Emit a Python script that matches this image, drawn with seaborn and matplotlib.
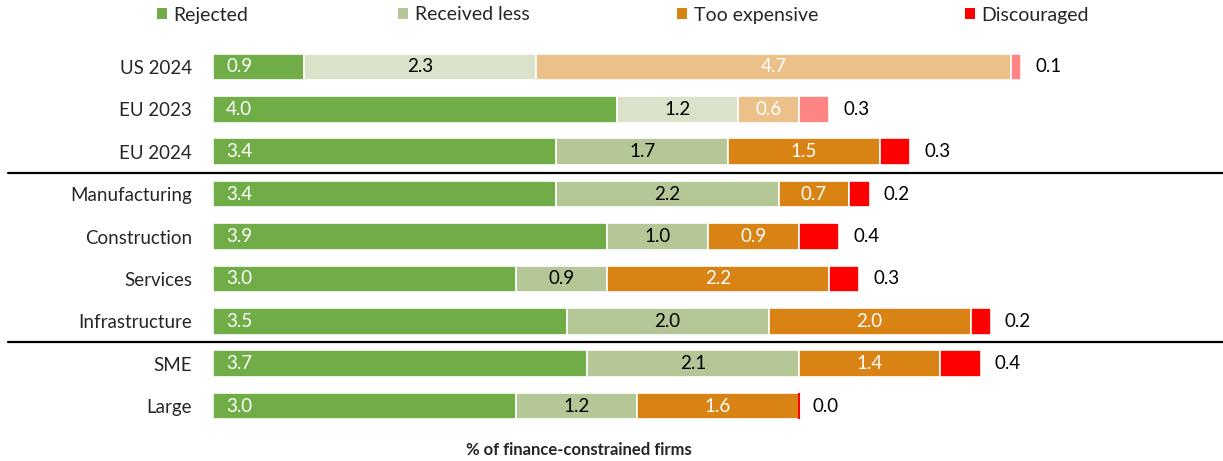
import matplotlib
matplotlib.use("Agg")
import matplotlib.pyplot as plt
from matplotlib.patches import Patch
from matplotlib.lines import Line2D
import matplotlib.transforms as mtransforms
import seaborn as sns
import pandas as pd
import numpy as np

# Reasons for being finance-constrained, by group
groups = ["US 2024", "EU 2023", "EU 2024", "Manufacturing", "Construction",
          "Services", "Infrastructure", "SME", "Large"]
rejected = [0.9, 4.0, 3.4, 3.4, 3.9, 3.0, 3.5, 3.7, 3.0]
received_less = [2.3, 1.2, 1.7, 2.2, 1.0, 0.9, 2.0, 2.1, 1.2]
too_expensive = [4.7, 0.6, 1.5, 0.7, 0.9, 2.2, 2.0, 1.4, 1.6]
discouraged = [0.1, 0.3, 0.3, 0.2, 0.4, 0.3, 0.2, 0.4, 0.0]

series_names = ["Rejected", "Received less", "Too expensive", "Discouraged"]
series_values = [rejected, received_less, too_expensive, discouraged]

colors = ["#70AD47", "#B6C797", "#D98314", "#FF0000"]
light_colors = ["#70AD47", "#DAE3C9", "#EBC189", "#FF8585"]
light_rows = {"US 2024", "EU 2023"}
label_colors = ["white", "black", "white", "black"]

FS = 13.5

sns.set_theme(style="white")
plt.rcParams["font.family"] = ["Lato", "DejaVu Sans"]

W, H = 1223, 461
fig = plt.figure(figsize=(W / 100, H / 100), dpi=100)
ax = fig.add_axes([213 / W, 1 - 427.2 / H, 1010 / W, 381.4 / H])

df = pd.DataFrame({"group": groups})
lefts = np.zeros(len(groups))
for k, (name, vals) in enumerate(zip(series_names, series_values)):
    df["value"] = vals
    n_before = len(ax.patches)
    sns.barplot(data=df, x="value", y="group", order=groups, orient="h",
                color=colors[k], width=0.63, ax=ax, linewidth=1.2,
                edgecolor="white", saturation=1)
    bars = ax.patches[n_before:]
    for i, (bar, g) in enumerate(zip(bars, groups)):
        bar.set_x(lefts[i])
        fc = light_colors[k] if g in light_rows else colors[k]
        bar.set_facecolor(fc)
        if vals[i] == 0:
            bar.set_edgecolor(fc)
            bar.set_linewidth(1.5)
        yc = bar.get_y() + bar.get_height() / 2
        v = vals[i]
        if k == 0:
            ax.text(lefts[i] + 0.13, yc, f"{v:.1f}", color="white",
                    ha="left", va="center", fontsize=FS)
        elif k == 3:
            ax.text(lefts[i] + v + 0.14, yc, f"{v:.1f}", color="black",
                    ha="left", va="center", fontsize=FS)
        else:
            ax.text(lefts[i] + v / 2, yc, f"{v:.1f}", color=label_colors[k],
                    ha="center", va="center", fontsize=FS)
    lefts = lefts + np.array(vals)

ax.set_xlim(0, 10)
ax.set_ylim(8.5, -0.5)
ax.set_xlabel("")
ax.set_ylabel("")
ax.set_xticks([])
ax.tick_params(axis="y", length=0, pad=15, labelsize=FS)
for sp in ax.spines.values():
    sp.set_visible(False)

# Group separators spanning the full width
trans = mtransforms.blended_transform_factory(fig.transFigure, ax.transData)
for yy in [2.5, 6.5]:
    ax.add_line(Line2D([8 / W, 1.0], [yy, yy], transform=trans, color="black",
                       linewidth=1.6, clip_on=False))

# Legend entries across the top
legend_x = [157, 398, 677, 965]
for name, c, lx in zip(series_names, colors, legend_x):
    fig.legend(handles=[Patch(facecolor=c, edgecolor="none")], labels=[name],
               loc="center left", bbox_to_anchor=(lx / W, 1 - 15 / H),
               frameon=False, fontsize=14, handlelength=0.5, handleheight=0.5,
               handletextpad=0.35, borderpad=0, borderaxespad=0)

fig.text(579 / W, 1 - 450 / H, "% of finance-constrained firms", ha="center",
         va="center", fontsize=12, fontweight="bold")

fig.savefig("out.png", dpi=100)
